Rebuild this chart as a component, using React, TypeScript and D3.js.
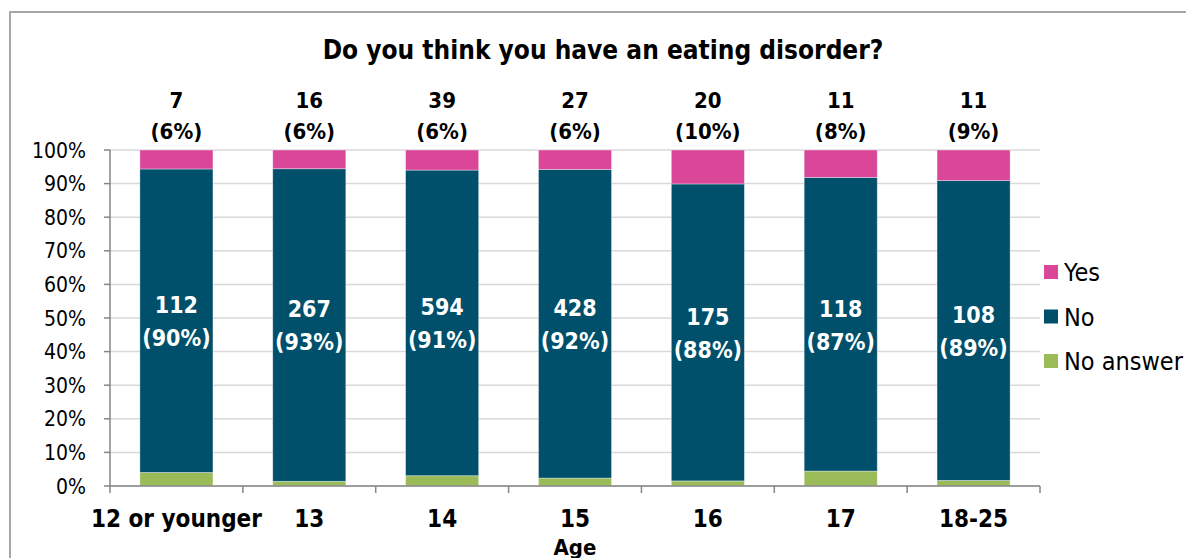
import React from "react";
import * as d3 from "d3";

const categories = ["12 or younger", "13", "14", "15", "16", "17", "18-25"];
const yesCounts = [7, 16, 39, 27, 20, 11, 11];
const noCounts = [112, 267, 594, 428, 175, 118, 108];
const noAnswerCounts = [5, 4, 20, 11, 3, 6, 2];
const yTicks = [0, 0.1, 0.2, 0.3, 0.4, 0.5, 0.6, 0.7, 0.8, 0.9, 1];
const seriesNames = ["Yes", "No", "No answer"];
const seriesColors = ["#DA4698", "#00506B", "#9BBB59"];
const title = "Do you think you have an eating disorder?";
const xTitle = "Age";

const W = 1186;
const H = 558;
const FONT = "'DejaVu Sans Condensed', 'DejaVu Sans', sans-serif";

export default function App() {
  const left = 110;
  const right = 1040;
  const top = 150;
  const bottom = 486;

  const x = d3.scaleBand<string>().domain(categories).range([left, right]).paddingInner(0.45).paddingOuter(0.225);
  const xStep = d3.scaleBand<string>().domain(categories).range([left, right]).padding(0);
  const y = d3.scaleLinear().domain([0, 1]).range([bottom, top]);

  const rows = categories.map((c, i) => {
    const total = yesCounts[i] + noCounts[i] + noAnswerCounts[i];
    return { cat: c, NA: noAnswerCounts[i] / total, No: noCounts[i] / total, Yes: yesCounts[i] / total, i, total };
  });
  const stack = d3.stack<any>().keys(["NA", "No", "Yes"]);
  const stacked = stack(rows);
  const colorFor: Record<string, string> = { Yes: seriesColors[0], No: seriesColors[1], NA: seriesColors[2] };

  const pct = (n: number, t: number) => `(${Math.round((n / t) * 100)}%)`;

  return (
    <svg width={W} height={H} style={{ position: "absolute", left: 0, top: 0, background: "#fff" }} fontFamily={FONT}>
      <rect x={10} y={12} width={1200} height={600} fill="#fff" stroke="#a6a6a6" strokeWidth={2} />
      <text x={603} y={59} textAnchor="middle" fontWeight="bold" fontSize={26} fill="#000">{title}</text>

      {/* gridlines */}
      {yTicks.map((t) => (
        <line key={"g" + t} x1={left} x2={right} y1={y(t)} y2={y(t)} stroke="#d9d9d9" strokeWidth={1.5} />
      ))}

      {/* bars */}
      {stacked.map((layer) => (
        <g key={layer.key} fill={colorFor[layer.key]}>
          {layer.map((d: any, j: number) => (
            <rect key={j} x={x(categories[j])} width={x.bandwidth()} y={y(d[1])} height={y(d[0]) - y(d[1])}
              stroke="#ffffff" strokeOpacity={0.45} strokeWidth={0.8} />
          ))}
        </g>
      ))}

      {/* y axis */}
      <line x1={left} x2={left} y1={top} y2={bottom} stroke="#868686" strokeWidth={1.5} />
      {yTicks.map((t) => (
        <g key={"t" + t}>
          <line x1={left - 6} x2={left} y1={y(t)} y2={y(t)} stroke="#868686" strokeWidth={1.5} />
          <text x={86} y={y(t)} dy="0.36em" textAnchor="end" fontSize={21} fill="#000">{Math.round(t * 100)}%</text>
        </g>
      ))}

      {/* x axis */}
      <line x1={left} x2={right} y1={bottom} y2={bottom} stroke="#868686" strokeWidth={1.5} />
      {[...categories.map((c) => xStep(c) as number), right].map((bx, k) => (
        <line key={"xt" + k} x1={bx} x2={bx} y1={bottom} y2={bottom + 7} stroke="#868686" strokeWidth={1.5} />
      ))}
      {categories.map((c) => (
        <text key={"xl" + c} x={(x(c) as number) + x.bandwidth() / 2} y={527} textAnchor="middle" fontWeight="bold" fontSize={24} fill="#000">{c}</text>
      ))}
      <text x={(left + right) / 2} y={555} textAnchor="middle" fontWeight="bold" fontSize={22} fill="#000">{xTitle}</text>

      {/* top labels (Yes) */}
      {rows.map((r) => {
        const cx = (x(r.cat) as number) + x.bandwidth() / 2;
        return (
          <g key={"yl" + r.cat} fontWeight="bold" fontSize={22} textAnchor="middle" fill="#000">
            <text x={cx} y={108}>{yesCounts[r.i]}</text>
            <text x={cx} y={139}>{pct(yesCounts[r.i], r.total)}</text>
          </g>
        );
      })}

      {/* inside labels (No) */}
      {rows.map((r) => {
        const cx = (x(r.cat) as number) + x.bandwidth() / 2;
        const cy = y(r.NA + r.No / 2);
        return (
          <g key={"nl" + r.cat} fontWeight="bold" fontSize={23} textAnchor="middle" fill="#fff">
            <text x={cx} y={cy - 16} dy="0.36em">{noCounts[r.i]}</text>
            <text x={cx} y={cy + 17} dy="0.36em">{pct(noCounts[r.i], r.total)}</text>
          </g>
        );
      })}

      {/* legend */}
      {seriesNames.map((s, k) => (
        <g key={"lg" + s}>
          <rect x={1044} y={265 + k * 44.5} width={14} height={14} fill={seriesColors[k]} />
          <text x={1064} y={272 + k * 44.5} dy="0.36em" fontSize={25} fill="#000">{s}</text>
        </g>
      ))}
    </svg>
  );
}
